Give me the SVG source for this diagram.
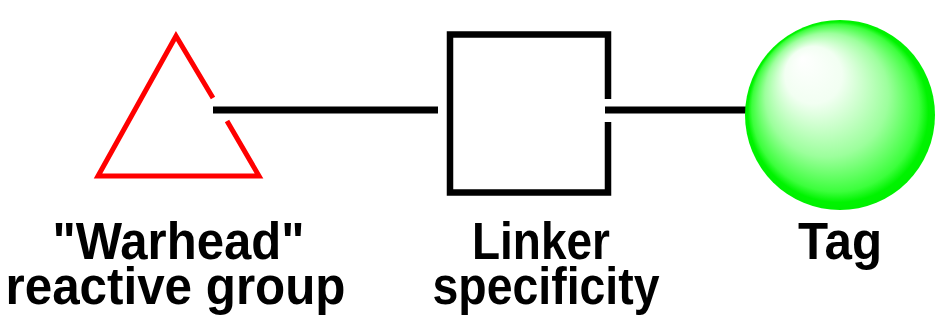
<svg xmlns="http://www.w3.org/2000/svg" width="938" height="321" viewBox="0 0 938 321">
<style>
.lbl{font-family:"Liberation Sans",Arial,sans-serif;font-weight:bold;font-size:51px;fill:#000;text-anchor:middle}
.conn{stroke:#000;stroke-width:7;fill:none}
</style>
<defs>
<radialGradient id="sph" cx="0.5" cy="0.5" r="0.5" fx="0.3" fy="0.2">
<stop offset="0" stop-color="#ffffff"/>
<stop offset="0.3" stop-color="#f2fff2"/>
<stop offset="0.65" stop-color="#9cff9c"/>
<stop offset="0.88" stop-color="#3cff3c"/>
<stop offset="0.95" stop-color="#00f400"/>
<stop offset="1" stop-color="#00f000"/>
</radialGradient>
</defs>
<rect width="938" height="321" fill="#fff"/>
<g id="connectors">
<line class="conn" x1="213" y1="110" x2="438" y2="110"/>
<line class="conn" x1="605" y1="110" x2="746" y2="110"/>
</g>
<g id="warhead">
<path d="M213,98 L176,36 L98,176 L259,176 L227,121" fill="none" stroke="#ff0000" stroke-width="5" stroke-linejoin="miter"/>
<text class="lbl" x="178.5" y="259" textLength="252" lengthAdjust="spacingAndGlyphs">"Warhead"</text>
<text class="lbl" x="175.5" y="304" textLength="340" lengthAdjust="spacingAndGlyphs">reactive group</text>
</g>
<g id="linker">
<path d="M608,99 L608,34.5 L450,34.5 L450,192.5 L608,192.5 L608,122" fill="none" stroke="#000" stroke-width="6.5" stroke-linejoin="miter"/>
<text class="lbl" x="541" y="259" textLength="138" lengthAdjust="spacingAndGlyphs">Linker</text>
<text class="lbl" x="546" y="304" textLength="227" lengthAdjust="spacingAndGlyphs">specificity</text>
</g>
<g id="tag">
<circle cx="840" cy="115" r="95" fill="url(#sph)"/>
<text class="lbl" x="840" y="259" textLength="84" lengthAdjust="spacingAndGlyphs">Tag</text>
</g>
</svg>
